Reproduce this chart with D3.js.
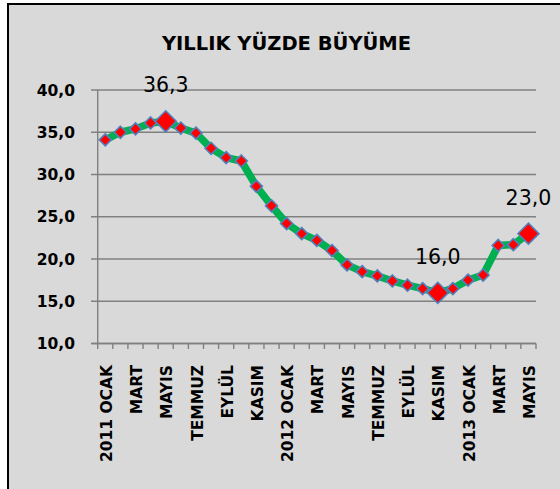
<!DOCTYPE html>
<html><head><meta charset="utf-8">
<script src="https://cdn.jsdelivr.net/npm/d3@7"></script>
<style>html,body{margin:0;padding:0;background:#fff}svg{display:block}</style>
</head><body>
<svg id="c" width="560" height="489"></svg>
<script>
const title = "YILLIK YÜZDE BÜYÜME";
const months = ["2011 OCAK","ŞUBAT","MART","NİSAN","MAYIS","HAZİRAN","TEMMUZ","AĞUSTOS","EYLÜL","EKİM","KASIM","ARALIK",
  "2012 OCAK","ŞUBAT","MART","NİSAN","MAYIS","HAZİRAN","TEMMUZ","AĞUSTOS","EYLÜL","EKİM","KASIM","ARALIK",
  "2013 OCAK","ŞUBAT","MART","NİSAN","MAYIS"];
const values = [34.1,35.0,35.4,36.1,36.3,35.5,34.9,33.1,32.0,31.6,28.6,26.3,24.2,23.0,22.2,21.0,19.3,18.5,18.0,17.4,16.9,16.5,16.0,16.5,17.5,18.1,21.6,21.7,23.0];
const highlighted = [4,22,28];
const yTicks = [10,15,20,25,30,35,40];

const svg = d3.select("#c");
svg.append("rect").attr("x",8).attr("y",4).attr("width",600).attr("height",600)
  .attr("fill","#d9d9d9").attr("stroke","#000").attr("stroke-width",2);

svg.append("text").attr("x",286.5).attr("y",49.5).attr("text-anchor","middle")
  .attr("font-family","DejaVu Sans").attr("font-weight","bold").attr("font-size",19.5)
  .attr("fill","#000").text(title);

const x = d3.scaleBand().domain(d3.range(months.length)).range([97.7,536]).paddingInner(0).paddingOuter(0);
const y = d3.scaleLinear().domain([10,40]).range([343.5,90]);
const cx = i => x(i) + x.bandwidth()/2;

// gridlines
svg.append("g").selectAll("line").data(yTicks).join("line")
  .attr("x1",91).attr("x2",536).attr("y1",d=>y(d)).attr("y2",d=>y(d))
  .attr("stroke","#808080").attr("stroke-width",1.4);

// y axis line
svg.append("line").attr("x1",97.7).attr("x2",97.7).attr("y1",90).attr("y2",343.5)
  .attr("stroke","#808080").attr("stroke-width",1.4);

// y labels
svg.append("g").selectAll("text").data(yTicks).join("text")
  .attr("x",75).attr("y",d=>y(d)).attr("dy","0.36em").attr("text-anchor","end")
  .attr("font-family","DejaVu Sans").attr("font-weight","bold").attr("font-size",15.5)
  .attr("fill","#000").text(d=>d.toFixed(1).replace(".",","));

// x axis
svg.append("line").attr("x1",91.5).attr("x2",536).attr("y1",343.5).attr("y2",343.5)
  .attr("stroke","#808080").attr("stroke-width",1.4);
const bounds = d3.range(months.length+1).map(i => i < months.length ? x(i) : x(months.length-1)+x.bandwidth());
svg.append("g").selectAll("line").data(bounds).join("line")
  .attr("x1",d=>d).attr("x2",d=>d).attr("y1",343.5).attr("y2",349)
  .attr("stroke","#808080").attr("stroke-width",1.4);

svg.append("g").selectAll("text").data(months.map((m,i)=>({m,i})).filter(d=>d.i%2===0)).join("text")
  .attr("transform",d=>`translate(${cx(d.i)+1},365) rotate(-90)`)
  .attr("dy","0.36em").attr("text-anchor","end")
  .attr("font-family","DejaVu Sans").attr("font-weight","bold").attr("font-size",15.5)
  .attr("fill","#000").text(d=>d.m);

// line
const line = d3.line().x((d,i)=>cx(i)).y(d=>y(d));
svg.append("path").datum(values).attr("d",line).attr("fill","none")
  .attr("stroke","#00b050").attr("stroke-width",7.5).attr("stroke-linejoin","round");

// markers
const diamond = r => `M0,${-r}L${r},0L0,${r}L${-r},0Z`;
svg.append("g").selectAll("path").data(values.map((v,i)=>({v,i}))).join("path")
  .attr("transform",d=>`translate(${cx(d.i)},${y(d.v)})`)
  .attr("d",d=>diamond(highlighted.includes(d.i)?10.5:6))
  .attr("fill","#ff0000").attr("stroke","#4f81bd").attr("stroke-width",1.6);

// data labels
svg.append("g").selectAll("text").data(highlighted).join("text")
  .attr("x",i=>cx(i)).attr("y",i=>y(values[i])-29).attr("text-anchor","middle")
  .attr("font-family","DejaVu Sans").attr("font-size",20.5).attr("fill","#000")
  .text(i=>values[i].toFixed(1).replace(".",","));
</script>
</body></html>
